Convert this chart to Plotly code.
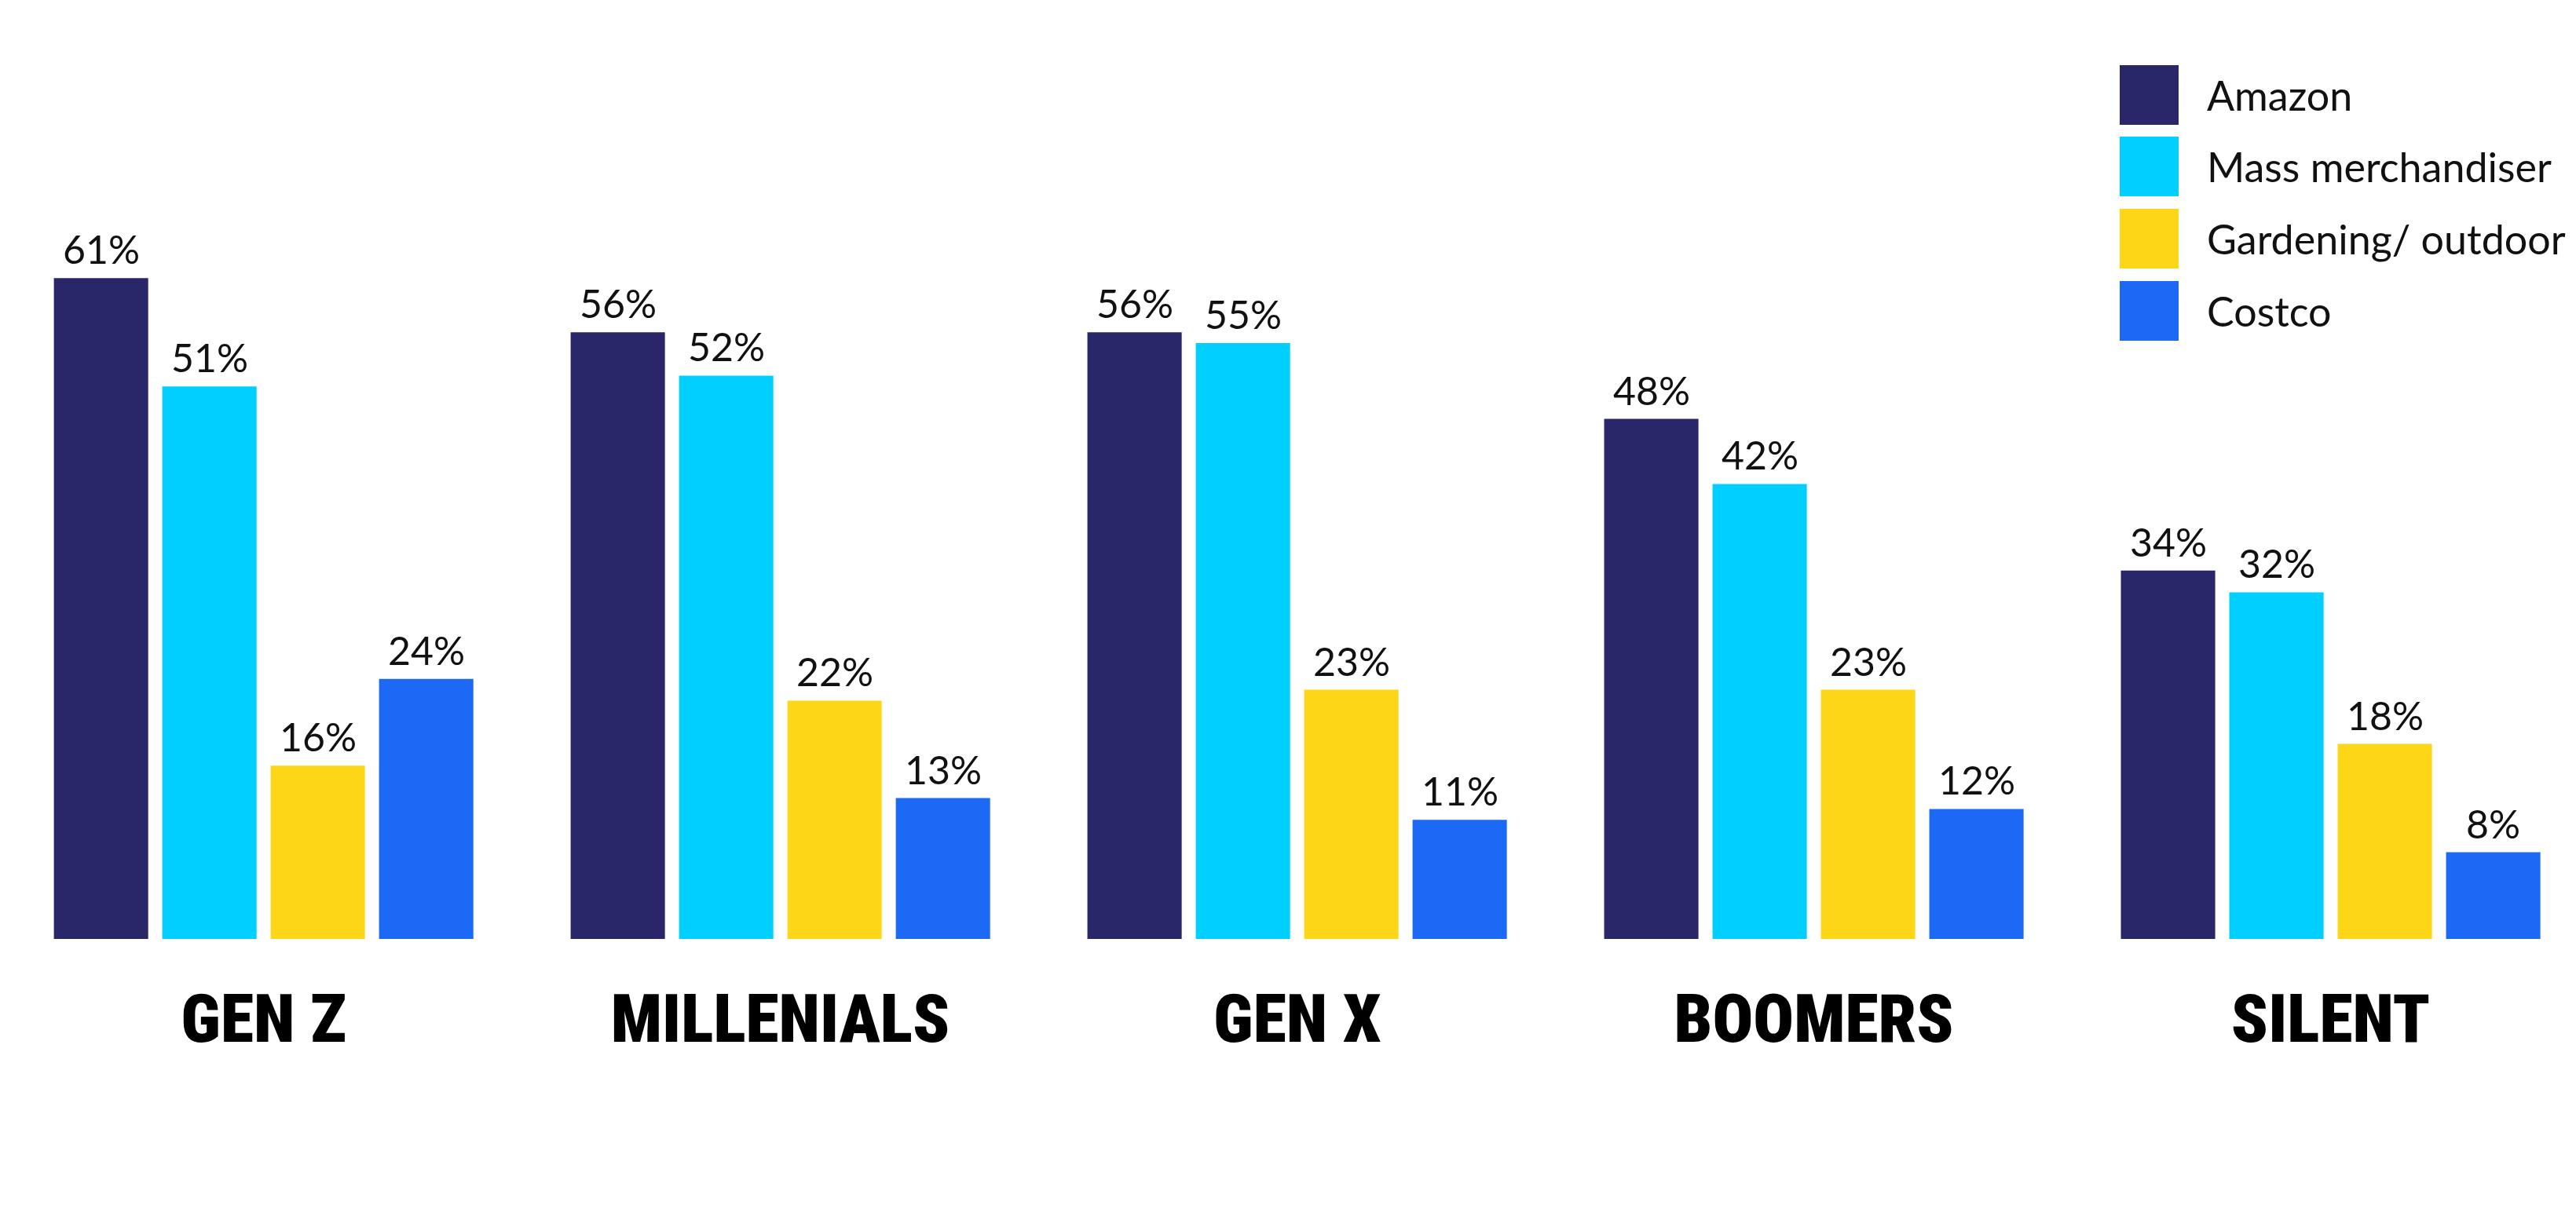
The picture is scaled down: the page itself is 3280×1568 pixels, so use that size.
import plotly.graph_objects as go

categories = ["GEN Z", "MILLENIALS", "GEN X", "BOOMERS", "SILENT"]
series_names = ["Amazon", "Mass merchandiser", "Gardening/ outdoor", "Costco"]
amazon = [61, 56, 56, 48, 34]
mass_merch = [51, 52, 55, 42, 32]
gardening = [16, 22, 23, 23, 18]
costco = [24, 13, 11, 12, 8]
series_values = [amazon, mass_merch, gardening, costco]
colors = ["#29266A", "#00CFFF", "#FDD717", "#1C69F6"]

W, H = 3280, 1568
BOTTOM = 380
PLOT_H = H - BOTTOM
BARGAP, GROUPGAP = 0.161, 0.13

fig = go.Figure()
for name, vals, col in zip(series_names, series_values, colors):
    fig.add_trace(go.Bar(
        name=name, x=categories, y=vals, marker=dict(color=col, line=dict(width=0)),
        showlegend=False, hoverinfo="x+y+name",
    ))

annos, shapes = [], []
# value labels above each bar (positions follow the grouped-bar layout)
n = len(series_values)
group_w = 1 - BARGAP
slot = group_w / n
for j, vals in enumerate(series_values):
    off = -group_w / 2 + slot * (j + 0.5)
    for i, v in enumerate(vals):
        annos.append(dict(x=i + off, y=v, xref="x", yref="y", text=f"{v}%",
                          showarrow=False, xanchor="center", yanchor="bottom", yshift=5,
                          font=dict(family="Lato", size=50, color="#111111")))

# custom legend (large swatches)
row_centers = [113, 204, 296, 388]
for i, (name, col) in enumerate(zip(series_names, colors)):
    cy = row_centers[i]
    shapes.append(dict(type="rect", xref="paper", yref="paper",
                       x0=2691 / W, x1=2766 / W,
                       y0=1 - (cy + 38) / PLOT_H, y1=1 - (cy - 38) / PLOT_H,
                       fillcolor=col, line=dict(width=0)))
    annos.append(dict(xref="paper", yref="paper", x=2800 / W, y=1 - cy / PLOT_H,
                      text=name, showarrow=False, xanchor="left", yanchor="middle",
                      font=dict(family="Lato", size=52, color="#111111")))

fig.update_layout(
    width=W, height=H,
    margin=dict(l=0, r=0, t=0, b=BOTTOM),
    barmode="group", bargap=BARGAP, bargroupgap=GROUPGAP,
    plot_bgcolor="white", paper_bgcolor="white",
    shapes=shapes, annotations=annos,
    xaxis=dict(range=[-0.498, 4.487], showgrid=False, showline=False, zeroline=False,
               ticks="", ticklabelstandoff=44,
               tickfont=dict(family="Noto Sans ExtraCondensed Black, Roboto Condensed, Liberation Sans Narrow, DejaVu Sans Condensed, sans-serif",
                             size=86, color="#000000", weight=900)),
    yaxis=dict(range=[0, PLOT_H / 13.8], visible=False, showgrid=False, zeroline=False),
)

fig.write_html("out.html")
